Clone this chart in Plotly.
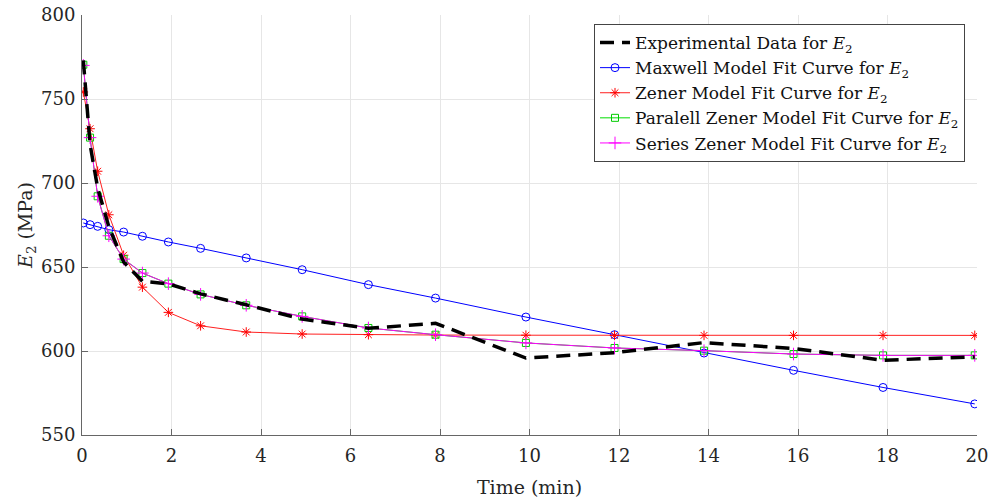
import plotly.graph_objects as go

# Time samples (min)
time_min = [0.03, 0.18, 0.35, 0.6, 0.93, 1.35, 1.93, 2.65, 3.67, 4.92, 6.4, 7.9,
            9.92, 11.9, 13.9, 15.9, 17.9, 19.95]

experimental = [773, 723, 697, 674, 653, 641.5, 640, 634, 627.5, 619, 613.5, 616.5,
                595.8, 599, 605, 601.5, 594.5, 596.5]
maxwell = [676.2, 675.2, 674.2, 672.2, 670.8, 668.3, 664.9, 661.1, 655.4, 648.4,
           639.5, 631.5, 620.2, 609.7, 598.8, 588.5, 578.3, 568.5]
zener = [754.2, 732.3, 707.0, 681.1, 657.0, 638.0, 623.0, 615.0, 611.3, 610.1,
         609.7, 609.5, 609.4, 609.3, 609.3, 609.3, 609.3, 609.3]
par_zener = [770.4, 727.0, 692.1, 668.6, 654.7, 646.4, 640.1, 633.7, 627.2, 620.6,
             613.7, 609.7, 604.8, 601.8, 600.2, 598.2, 597.4, 597.4]
ser_zener = [770.0, 727.0, 692.1, 668.6, 654.7, 646.4, 640.1, 633.7, 627.2, 620.6,
             613.7, 609.7, 604.8, 601.8, 600.2, 598.2, 597.4, 597.4]

x_ticks = [0, 2, 4, 6, 8, 10, 12, 14, 16, 18, 20]
y_ticks = [550, 600, 650, 700, 750, 800]

FONT = "DejaVu Serif"
E2 = "<i>E</i><sub>2</sub>"

fig = go.Figure()

fig.add_trace(go.Scatter(
    x=time_min, y=maxwell, mode="lines+markers",
    name="Maxwell Model Fit Curve for " + E2, legendrank=2,
    line=dict(color="#0000ff", width=1),
    marker=dict(symbol="circle-open", size=8, color="#0000ff", line=dict(width=1))))
fig.add_trace(go.Scatter(
    x=time_min, y=zener, mode="lines+markers",
    name="Zener Model Fit Curve for " + E2, legendrank=3,
    line=dict(color="#ff2020", width=1),
    marker=dict(symbol="asterisk-open", size=8, color="#ff0000", line=dict(width=1))))
fig.add_trace(go.Scatter(
    x=time_min, y=par_zener, mode="lines+markers",
    name="Paralell Zener Model Fit Curve for " + E2, legendrank=4,
    line=dict(color="#00dd00", width=1),
    marker=dict(symbol="square-open", size=7, color="#00cc00", line=dict(width=1))))
fig.add_trace(go.Scatter(
    x=time_min, y=ser_zener, mode="lines+markers",
    name="Series Zener Model Fit Curve for " + E2, legendrank=5,
    line=dict(color="#ff00ff", width=1),
    marker=dict(symbol="cross-thin-open", size=9, color="#ff00ff", line=dict(width=1))))
fig.add_trace(go.Scatter(
    x=time_min, y=experimental, mode="lines",
    name="Experimental Data for " + E2, legendrank=1,
    line=dict(color="black", width=3.5, dash="14px,8px")))

axis_common = dict(
    showline=True, linecolor="#666", linewidth=1,
    ticks="inside", ticklen=6, tickcolor="#666",
    showgrid=True, gridcolor="#e6e6e6", gridwidth=1,
    zeroline=False, mirror=False, automargin=False,
    tickfont=dict(family=FONT, size=18, color="#262626"),
)

fig.update_xaxes(range=[0, 20], tickvals=x_ticks, ticklabelstandoff=4,
                 title=dict(text="Time (min)", font=dict(family=FONT, size=19, color="#262626"), standoff=16),
                 **axis_common)
fig.update_yaxes(range=[550, 800], tickvals=y_ticks, ticklabelstandoff=2,
                 title=dict(text=E2 + " (MPa)", font=dict(family=FONT, size=19, color="#262626"), standoff=3),
                 **axis_common)

fig.update_layout(
    width=990, height=502,
    margin=dict(l=82, r=13, t=15, b=67),
    plot_bgcolor="white", paper_bgcolor="white",
    legend=dict(x=0.9866, y=0.9786, xanchor="right", yanchor="top",
                bgcolor="white", bordercolor="#444", borderwidth=1,
                font=dict(family=FONT, size=17, color="#111"),
                tracegroupgap=0, itemwidth=30),
    showlegend=True,
)

fig.write_html("out.html", config={"displayModeBar": False},
               post_script="document.body.style.margin='0';")
